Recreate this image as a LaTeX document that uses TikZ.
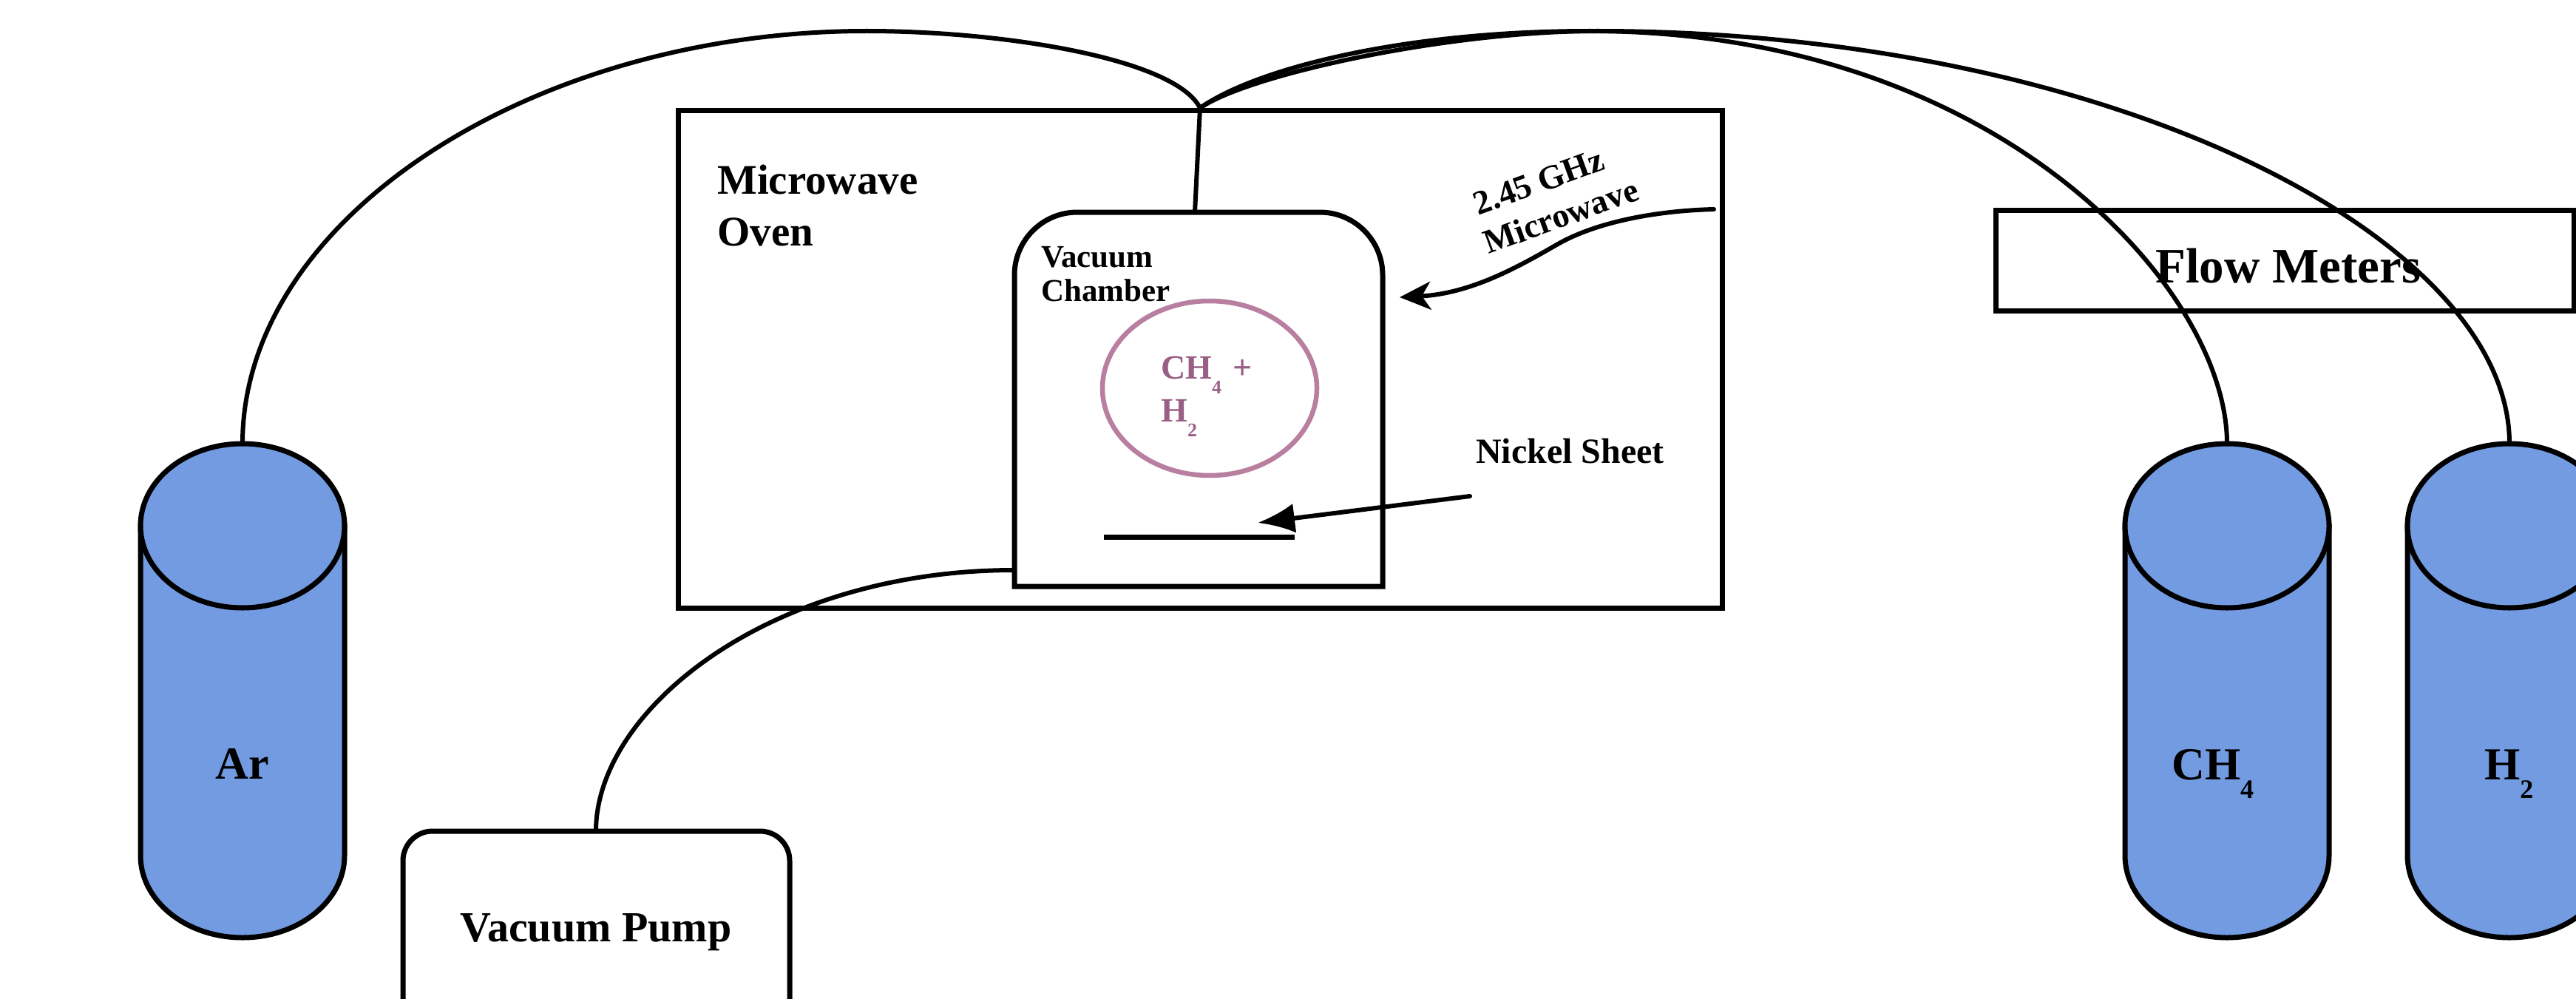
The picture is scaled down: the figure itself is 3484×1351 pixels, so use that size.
\documentclass[tikz,border=0pt]{standalone}
\usepackage{fontspec}
\usetikzlibrary{shapes.geometric,arrows.meta}
\setmainfont{Liberation Serif}
\definecolor{tankblue}{HTML}{739BE2}
\definecolor{gasmauve}{HTML}{B87FA0}
\definecolor{gastext}{HTML}{9A5F85}
\newcommand{\fs}[1]{\fontsize{#1}{#1}\selectfont\bfseries}
\tikzset{
  ln/.style={line width=7pt,black},
  thin ln/.style={line width=6pt,black,line cap=round},
  lbl/.style={inner sep=0pt,align=left,text=black},
  tank/.style={ln,fill=tankblue},
}
\newcommand{\tankat}[1]{%
  \draw[tank] (#1-138,711) -- (#1-138,1157) arc[start angle=180,end angle=360,x radius=138pt,y radius=111pt] -- (#1+138,711) -- cycle;
  \draw[tank] (#1,711) ellipse[x radius=138pt,y radius=111pt];
}
\begin{document}
\begin{tikzpicture}[x=1pt,y=-1pt]
\useasboundingbox[fill=white] (0,0) rectangle (3484,1351);
\begin{scope}
\clip (0,0) rectangle (3484,1351);
% boxes
\node[draw,ln,minimum width=1412pt,minimum height=672pt,inner sep=0pt] (oven) at (1623,486) {};
\node[draw,ln,minimum width=782pt,minimum height=136pt,inner sep=0pt] (flow) at (3090,352) {};
\draw[ln,rounded corners=40pt] (545,1400) -- (545,1124) -- (1068,1124) -- (1068,1400);
\coordinate (pumptop) at (806,1124);
\draw[ln] (1372,793) -- (1372,372) arc[start angle=180,end angle=90,radius=85pt] -- (1785,287) arc[start angle=90,end angle=0,radius=85pt] -- (1870,793) -- cycle;
\coordinate (chamberleft) at (1372,771);
\coordinate (chambertop) at (1616,287);
\node[draw=gasmauve,line width=6.5pt,ellipse,minimum width=290pt,minimum height=236pt,inner sep=0pt] (gas) at (1636,525) {};
% junction and lines
\coordinate (junction) at (1623,146);
\coordinate (ar) at (328,600);
\coordinate (ch) at (3012,600);
\coordinate (hh) at (3394,600);
\draw[thin ln] (junction) -- (chambertop);
\draw[thin ln] (ar) .. controls (328,295) and (720,42) .. (1172,42) .. controls (1360,42) and (1590,80) .. (junction);
\draw[thin ln] (ch) .. controls (3012,390) and (2700,42) .. (2150,42) .. controls (1900,42) and (1700,92) .. (junction);
\draw[thin ln] (hh) .. controls (3394,320) and (2850,42) .. (2160,42) .. controls (1960,42) and (1690,100) .. (junction);
\draw[thin ln] (pumptop) .. controls (806,960) and (1040,771) .. (chamberleft);
% tanks
\tankat{328}
\tankat{3012}
\tankat{3394}
% arrows
\coordinate (mwstart) at (2318,283);
\coordinate (mwmid) at (2107,330);
\coordinate (mwend) at (1893,402);
\draw[thin ln,-{Stealth[length=42pt,width=38pt,inset=12pt]}] (mwstart) .. controls (2240,285) and (2160,300) .. (mwmid) .. controls (2055,360) and (1990,397) .. (mwend);
\coordinate (nistart) at (1988,671);
\coordinate (niend) at (1701,707);
\draw[thin ln,-{Latex[length=50pt,width=40pt]}] (nistart) -- (niend);
\draw[ln] (1493,726) -- (1751,726);
% labels
\node[lbl,anchor=base west,font=\fs{67}] (tflow) at (2915,382) {Flow Meters};
\node[lbl,anchor=base,font=\fs{62}] (tar) at (328,1053) {Ar};
\node[lbl,anchor=base west,font=\fs{62}] (tch) at (2937,1054) {CH\raisebox{-25pt}{\fs{36}4}};
\node[lbl,anchor=base west,font=\fs{62}] (thh) at (3360,1054) {H\raisebox{-25pt}{\fs{36}2}};
\node[lbl,anchor=base,font=\fs{58}] (tpump) at (806,1273) {Vacuum Pump};
\node[lbl,anchor=north west,font=\fs{57}] (toven) at (970,223) {Microwave\\[13pt]Oven};
\node[lbl,anchor=north west,font=\fs{43}] (tvac) at (1408,333) {Vacuum\\[3pt]Chamber};
\node[lbl,anchor=base west,font=\fs{48}] (tni) at (1996,626) {Nickel Sheet};
\node[lbl,anchor=center,rotate=20,align=right,font=\fs{46}] (tmw) at (2102,267) {2.45 GHz\hspace*{30pt}\\[8pt]Microwave};
\node[lbl,anchor=base west,text=gastext,font=\fs{46}] (tg1) at (1570,512) {CH\raisebox{-20pt}{\fs{26}4}\,\,+};
\node[lbl,anchor=base west,text=gastext,font=\fs{46}] (tg2) at (1570,570) {H\raisebox{-20pt}{\fs{26}2}};
\end{scope}
\end{tikzpicture}
\end{document}
